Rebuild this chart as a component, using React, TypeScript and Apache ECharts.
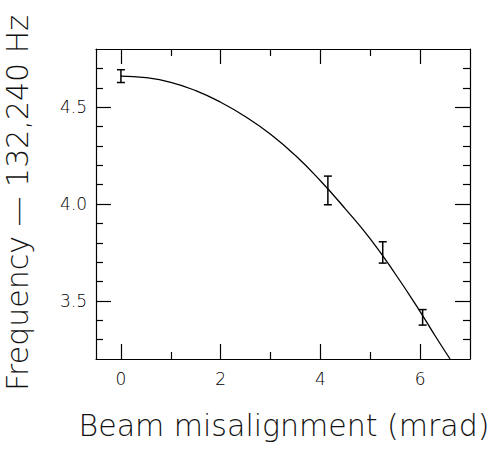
import React, { useEffect, useRef } from "react";
import * as echarts from "echarts";

// Data
const pointX = [0, 4.15, 5.25, 6.05];
const pointY = [4.66, 4.07, 3.75, 3.415];
const pointErr = [0.033, 0.074, 0.055, 0.04];

const curveX = [0, 0.5, 1, 1.5, 2, 2.5, 3, 3.5, 4, 4.5, 5, 5.5, 6, 6.3, 6.6];
const curveY = [4.66, 4.652, 4.628, 4.585, 4.525, 4.45, 4.36, 4.25, 4.12, 3.975, 3.82, 3.64, 3.445, 3.32, 3.2];

const xMajor = [0, 2, 4, 6];
const xMinor = [1, 3, 5];
const yMajor = [3.5, 4.0, 4.5];
const yMinor = [3.3, 3.4, 3.6, 3.7, 3.8, 3.9, 4.1, 4.2, 4.3, 4.4, 4.6, 4.7];

const xTitle = "Beam misalignment (mrad)";
const yTitle = "Frequency \u2014 132,240 Hz";

const FONT = '"DejaVu Sans", sans-serif';

export default function App() {
  const ref = useRef<HTMLDivElement>(null);
  useEffect(() => {
    if (!ref.current) return;
    const chart = echarts.init(ref.current, undefined, { renderer: "svg" });
    const line = { color: "#000", width: 1.2 };
    const mkX = (pos: string, vals: number[], len: number, showLine: boolean, showLabel: boolean) => ({
      type: "value",
      min: -0.5,
      max: 7,
      position: pos,
      axisLine: { show: showLine, onZero: false, lineStyle: line },
      axisTick: { show: true, inside: true, length: len, customValues: vals, lineStyle: line },
      axisLabel: {
        show: showLabel,
        customValues: vals,
        margin: 11,
        color: "#000",
        fontSize: 17,
        fontFamily: FONT,
        fontWeight: 300,
      },
      splitLine: { show: false },
    });
    const mkY = (pos: string, vals: number[], len: number, showLine: boolean, showLabel: boolean) => ({
      type: "value",
      min: 3.2,
      max: 4.8,
      position: pos,
      axisLine: { show: showLine, onZero: false, lineStyle: line },
      axisTick: { show: true, inside: true, length: len, customValues: vals, lineStyle: line },
      axisLabel: {
        show: showLabel,
        customValues: vals,
        margin: 9,
        color: "#000",
        fontSize: 17,
        fontFamily: FONT,
        fontWeight: 300,
        formatter: (v: number) => v.toFixed(1),
      },
      splitLine: { show: false },
    });
    chart.setOption({
      animation: false,
      backgroundColor: "#fff",
      grid: { left: 96, top: 49, right: 25, bottom: 90 },
      xAxis: [
        mkX("bottom", xMajor, 15, true, true),
        mkX("bottom", xMinor, 7, false, false),
        mkX("top", xMajor, 15, true, false),
        mkX("top", xMinor, 7, false, false),
      ],
      yAxis: [
        mkY("left", yMajor, 15, true, true),
        mkY("left", yMinor, 7, false, false),
        mkY("right", yMajor, 15, true, false),
        mkY("right", yMinor, 7, false, false),
      ],
      series: [
        {
          type: "line",
          xAxisIndex: 0,
          yAxisIndex: 0,
          data: curveX.map((x, i) => [x, curveY[i]]),
          smooth: true,
          showSymbol: false,
          lineStyle: { color: "#000", width: 1.3 },
          clip: true,
        },
        {
          type: "custom",
          xAxisIndex: 0,
          yAxisIndex: 0,
          data: pointX.map((x, i) => [x, pointY[i], pointY[i] - pointErr[i], pointY[i] + pointErr[i]]),
          encode: { x: 0, y: [1, 2, 3] },
          renderItem: (params: any, api: any) => {
            const x = api.value(0);
            const lo = api.coord([x, api.value(2)]);
            const hi = api.coord([x, api.value(3)]);
            const w = 4;
            const st = { stroke: "#000", lineWidth: 1.5 };
            return {
              type: "group",
              children: [
                { type: "line", shape: { x1: lo[0], y1: lo[1], x2: hi[0], y2: hi[1] }, style: st },
                { type: "line", shape: { x1: lo[0] - w, y1: lo[1], x2: lo[0] + w, y2: lo[1] }, style: st },
                { type: "line", shape: { x1: hi[0] - w, y1: hi[1], x2: hi[0] + w, y2: hi[1] }, style: st },
              ],
            };
          },
        },
      ],
      graphic: [
        {
          type: "text",
          x: 284,
          y: 425,
          style: {
            text: xTitle,
            fontSize: 30,
            fontFamily: FONT,
            fontWeight: 200,
            fill: "#111",
            textAlign: "center",
            textVerticalAlign: "middle",
          },
        },
        {
          type: "text",
          x: 17,
          y: 203,
          rotation: Math.PI / 2,
          style: {
            text: yTitle,
            fontSize: 30,
            fontFamily: FONT,
            fontWeight: 200,
            fill: "#111",
            textAlign: "center",
            textVerticalAlign: "middle",
          },
        },
      ],
    });
    return () => chart.dispose();
  }, []);
  return (
    <div
      ref={ref}
      style={{ position: "fixed", left: 0, top: 0, width: 495, height: 449 }}
    />
  );
}
